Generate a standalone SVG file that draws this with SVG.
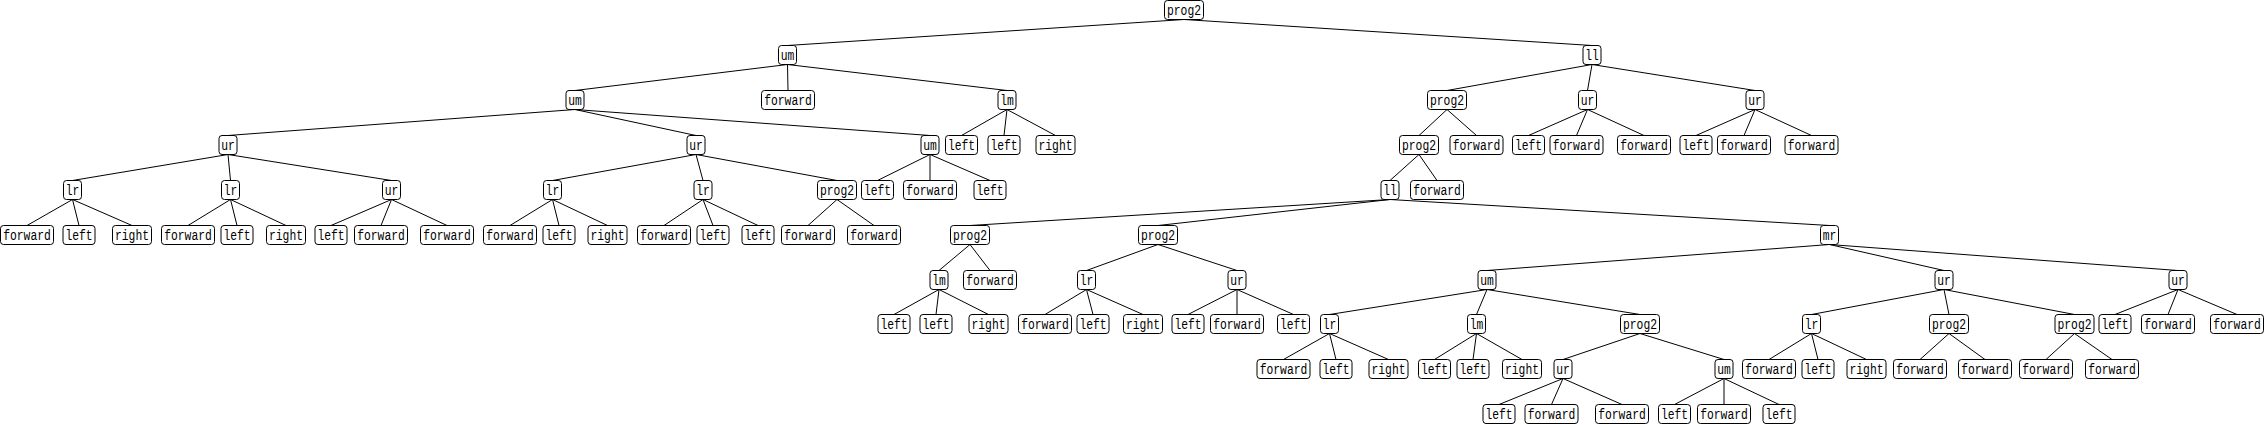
<svg xmlns="http://www.w3.org/2000/svg" width="2265" height="425" viewBox="0 0 2265 425">
<style>
.node rect{fill:#fff;stroke:#000;stroke-width:1}
.node text{font-family:"Liberation Mono","DejaVu Sans Mono",monospace;font-size:14px;fill:#000;text-anchor:middle}
#connectors line{stroke:#000;stroke-width:1}
</style>
<rect width="2265" height="425" fill="#fff"/>
<g id="connectors">
<line x1="1184" y1="19.5" x2="787.5" y2="45.5"/><line x1="1184" y1="19.5" x2="1592" y2="45.5"/>
<line x1="787.5" y1="64.5" x2="575" y2="90.5"/><line x1="787.5" y1="64.5" x2="788" y2="90.5"/><line x1="787.5" y1="64.5" x2="1007" y2="90.5"/>
<line x1="1592" y1="64.5" x2="1447" y2="90.5"/><line x1="1592" y1="64.5" x2="1587.5" y2="90.5"/><line x1="1592" y1="64.5" x2="1755" y2="90.5"/>
<line x1="575" y1="109.5" x2="228" y2="135.5"/><line x1="575" y1="109.5" x2="696" y2="135.5"/><line x1="575" y1="109.5" x2="930" y2="135.5"/>
<line x1="1007" y1="109.5" x2="961.5" y2="135.5"/><line x1="1007" y1="109.5" x2="1004" y2="135.5"/><line x1="1007" y1="109.5" x2="1055.5" y2="135.5"/>
<line x1="1447" y1="109.5" x2="1419" y2="135.5"/><line x1="1447" y1="109.5" x2="1476.5" y2="135.5"/>
<line x1="1587.5" y1="109.5" x2="1528.5" y2="135.5"/><line x1="1587.5" y1="109.5" x2="1576.5" y2="135.5"/><line x1="1587.5" y1="109.5" x2="1644" y2="135.5"/>
<line x1="1755" y1="109.5" x2="1696" y2="135.5"/><line x1="1755" y1="109.5" x2="1744" y2="135.5"/><line x1="1755" y1="109.5" x2="1811.5" y2="135.5"/>
<line x1="228" y1="154.5" x2="72.5" y2="180.5"/><line x1="228" y1="154.5" x2="230.5" y2="180.5"/><line x1="228" y1="154.5" x2="391.5" y2="180.5"/>
<line x1="696" y1="154.5" x2="552.5" y2="180.5"/><line x1="696" y1="154.5" x2="703" y2="180.5"/><line x1="696" y1="154.5" x2="837" y2="180.5"/>
<line x1="930" y1="154.5" x2="877.5" y2="180.5"/><line x1="930" y1="154.5" x2="930" y2="180.5"/><line x1="930" y1="154.5" x2="990" y2="180.5"/>
<line x1="1419" y1="154.5" x2="1390" y2="180.5"/><line x1="1419" y1="154.5" x2="1437" y2="180.5"/>
<line x1="72.5" y1="199.5" x2="27" y2="225.5"/><line x1="72.5" y1="199.5" x2="79" y2="225.5"/><line x1="72.5" y1="199.5" x2="132" y2="225.5"/>
<line x1="230.5" y1="199.5" x2="188" y2="225.5"/><line x1="230.5" y1="199.5" x2="237" y2="225.5"/><line x1="230.5" y1="199.5" x2="286" y2="225.5"/>
<line x1="391.5" y1="199.5" x2="331" y2="225.5"/><line x1="391.5" y1="199.5" x2="381" y2="225.5"/><line x1="391.5" y1="199.5" x2="447" y2="225.5"/>
<line x1="552.5" y1="199.5" x2="510" y2="225.5"/><line x1="552.5" y1="199.5" x2="559" y2="225.5"/><line x1="552.5" y1="199.5" x2="607.5" y2="225.5"/>
<line x1="703" y1="199.5" x2="664" y2="225.5"/><line x1="703" y1="199.5" x2="713" y2="225.5"/><line x1="703" y1="199.5" x2="758" y2="225.5"/>
<line x1="837" y1="199.5" x2="808" y2="225.5"/><line x1="837" y1="199.5" x2="874" y2="225.5"/>
<line x1="1390" y1="199.5" x2="970" y2="225.5"/><line x1="1390" y1="199.5" x2="1158" y2="225.5"/><line x1="1390" y1="199.5" x2="1829.5" y2="225.5"/>
<line x1="970" y1="244.5" x2="939" y2="270.5"/><line x1="970" y1="244.5" x2="990" y2="270.5"/>
<line x1="1158" y1="244.5" x2="1086.5" y2="270.5"/><line x1="1158" y1="244.5" x2="1237" y2="270.5"/>
<line x1="1829.5" y1="244.5" x2="1487" y2="270.5"/><line x1="1829.5" y1="244.5" x2="1944" y2="270.5"/><line x1="1829.5" y1="244.5" x2="2178" y2="270.5"/>
<line x1="939" y1="289.5" x2="894" y2="314.5"/><line x1="939" y1="289.5" x2="936" y2="314.5"/><line x1="939" y1="289.5" x2="988.5" y2="314.5"/>
<line x1="1086.5" y1="289.5" x2="1045" y2="314.5"/><line x1="1086.5" y1="289.5" x2="1093" y2="314.5"/><line x1="1086.5" y1="289.5" x2="1143" y2="314.5"/>
<line x1="1237" y1="289.5" x2="1188" y2="314.5"/><line x1="1237" y1="289.5" x2="1237" y2="314.5"/><line x1="1237" y1="289.5" x2="1293.5" y2="314.5"/>
<line x1="1487" y1="289.5" x2="1329.5" y2="314.5"/><line x1="1487" y1="289.5" x2="1476.5" y2="314.5"/><line x1="1487" y1="289.5" x2="1640" y2="314.5"/>
<line x1="1944" y1="289.5" x2="1811.5" y2="314.5"/><line x1="1944" y1="289.5" x2="1949" y2="314.5"/><line x1="1944" y1="289.5" x2="2074.5" y2="314.5"/>
<line x1="2178" y1="289.5" x2="2115" y2="314.5"/><line x1="2178" y1="289.5" x2="2168" y2="314.5"/><line x1="2178" y1="289.5" x2="2237" y2="314.5"/>
<line x1="1329.5" y1="333.5" x2="1283.5" y2="359.5"/><line x1="1329.5" y1="333.5" x2="1336" y2="359.5"/><line x1="1329.5" y1="333.5" x2="1388.5" y2="359.5"/>
<line x1="1476.5" y1="333.5" x2="1434.5" y2="359.5"/><line x1="1476.5" y1="333.5" x2="1473" y2="359.5"/><line x1="1476.5" y1="333.5" x2="1522" y2="359.5"/>
<line x1="1640" y1="333.5" x2="1563" y2="359.5"/><line x1="1640" y1="333.5" x2="1724" y2="359.5"/>
<line x1="1811.5" y1="333.5" x2="1769" y2="359.5"/><line x1="1811.5" y1="333.5" x2="1818" y2="359.5"/><line x1="1811.5" y1="333.5" x2="1866.5" y2="359.5"/>
<line x1="1949" y1="333.5" x2="1920" y2="359.5"/><line x1="1949" y1="333.5" x2="1985" y2="359.5"/>
<line x1="2074.5" y1="333.5" x2="2046" y2="359.5"/><line x1="2074.5" y1="333.5" x2="2112" y2="359.5"/>
<line x1="1563" y1="378.5" x2="1499" y2="404.5"/><line x1="1563" y1="378.5" x2="1551.5" y2="404.5"/><line x1="1563" y1="378.5" x2="1622" y2="404.5"/>
<line x1="1724" y1="378.5" x2="1674.5" y2="404.5"/><line x1="1724" y1="378.5" x2="1724" y2="404.5"/><line x1="1724" y1="378.5" x2="1779" y2="404.5"/>
</g>
<g id="n0" class="node"><rect x="1164.5" y="0.5" width="39" height="19" rx="3"/><text x="1184" y="14.5" textLength="34" lengthAdjust="spacingAndGlyphs">prog2</text></g>
<g id="n1" class="node"><rect x="778.5" y="45.5" width="18" height="19" rx="3"/><text x="787.5" y="59.5" textLength="13.6" lengthAdjust="spacingAndGlyphs">um</text></g>
<g id="n2" class="node"><rect x="1583" y="45.5" width="18" height="19" rx="3"/><text x="1592" y="59.5" textLength="13.6" lengthAdjust="spacingAndGlyphs">ll</text></g>
<g id="n3" class="node"><rect x="566" y="90.5" width="18" height="19" rx="3"/><text x="575" y="104.5" textLength="13.6" lengthAdjust="spacingAndGlyphs">um</text></g>
<g id="n4" class="node"><rect x="761.5" y="90.5" width="53" height="19" rx="3"/><text x="788" y="104.5" textLength="47.6" lengthAdjust="spacingAndGlyphs">forward</text></g>
<g id="n5" class="node"><rect x="998" y="90.5" width="18" height="19" rx="3"/><text x="1007" y="104.5" textLength="13.6" lengthAdjust="spacingAndGlyphs">lm</text></g>
<g id="n6" class="node"><rect x="1427.5" y="90.5" width="39" height="19" rx="3"/><text x="1447" y="104.5" textLength="34" lengthAdjust="spacingAndGlyphs">prog2</text></g>
<g id="n7" class="node"><rect x="1578.5" y="90.5" width="18" height="19" rx="3"/><text x="1587.5" y="104.5" textLength="13.6" lengthAdjust="spacingAndGlyphs">ur</text></g>
<g id="n8" class="node"><rect x="1746" y="90.5" width="18" height="19" rx="3"/><text x="1755" y="104.5" textLength="13.6" lengthAdjust="spacingAndGlyphs">ur</text></g>
<g id="n9" class="node"><rect x="219" y="135.5" width="18" height="19" rx="3"/><text x="228" y="149.5" textLength="13.6" lengthAdjust="spacingAndGlyphs">ur</text></g>
<g id="n10" class="node"><rect x="687" y="135.5" width="18" height="19" rx="3"/><text x="696" y="149.5" textLength="13.6" lengthAdjust="spacingAndGlyphs">ur</text></g>
<g id="n11" class="node"><rect x="921" y="135.5" width="18" height="19" rx="3"/><text x="930" y="149.5" textLength="13.6" lengthAdjust="spacingAndGlyphs">um</text></g>
<g id="n12" class="node"><rect x="945.5" y="135.5" width="32" height="19" rx="3"/><text x="961.5" y="149.5" textLength="27.2" lengthAdjust="spacingAndGlyphs">left</text></g>
<g id="n13" class="node"><rect x="988" y="135.5" width="32" height="19" rx="3"/><text x="1004" y="149.5" textLength="27.2" lengthAdjust="spacingAndGlyphs">left</text></g>
<g id="n14" class="node"><rect x="1036" y="135.5" width="39" height="19" rx="3"/><text x="1055.5" y="149.5" textLength="34" lengthAdjust="spacingAndGlyphs">right</text></g>
<g id="n15" class="node"><rect x="1399.5" y="135.5" width="39" height="19" rx="3"/><text x="1419" y="149.5" textLength="34" lengthAdjust="spacingAndGlyphs">prog2</text></g>
<g id="n16" class="node"><rect x="1450" y="135.5" width="53" height="19" rx="3"/><text x="1476.5" y="149.5" textLength="47.6" lengthAdjust="spacingAndGlyphs">forward</text></g>
<g id="n17" class="node"><rect x="1512.5" y="135.5" width="32" height="19" rx="3"/><text x="1528.5" y="149.5" textLength="27.2" lengthAdjust="spacingAndGlyphs">left</text></g>
<g id="n18" class="node"><rect x="1550" y="135.5" width="53" height="19" rx="3"/><text x="1576.5" y="149.5" textLength="47.6" lengthAdjust="spacingAndGlyphs">forward</text></g>
<g id="n19" class="node"><rect x="1617.5" y="135.5" width="53" height="19" rx="3"/><text x="1644" y="149.5" textLength="47.6" lengthAdjust="spacingAndGlyphs">forward</text></g>
<g id="n20" class="node"><rect x="1680" y="135.5" width="32" height="19" rx="3"/><text x="1696" y="149.5" textLength="27.2" lengthAdjust="spacingAndGlyphs">left</text></g>
<g id="n21" class="node"><rect x="1717.5" y="135.5" width="53" height="19" rx="3"/><text x="1744" y="149.5" textLength="47.6" lengthAdjust="spacingAndGlyphs">forward</text></g>
<g id="n22" class="node"><rect x="1785" y="135.5" width="53" height="19" rx="3"/><text x="1811.5" y="149.5" textLength="47.6" lengthAdjust="spacingAndGlyphs">forward</text></g>
<g id="n23" class="node"><rect x="63.5" y="180.5" width="18" height="19" rx="3"/><text x="72.5" y="194.5" textLength="13.6" lengthAdjust="spacingAndGlyphs">lr</text></g>
<g id="n24" class="node"><rect x="221.5" y="180.5" width="18" height="19" rx="3"/><text x="230.5" y="194.5" textLength="13.6" lengthAdjust="spacingAndGlyphs">lr</text></g>
<g id="n25" class="node"><rect x="382.5" y="180.5" width="18" height="19" rx="3"/><text x="391.5" y="194.5" textLength="13.6" lengthAdjust="spacingAndGlyphs">ur</text></g>
<g id="n26" class="node"><rect x="543.5" y="180.5" width="18" height="19" rx="3"/><text x="552.5" y="194.5" textLength="13.6" lengthAdjust="spacingAndGlyphs">lr</text></g>
<g id="n27" class="node"><rect x="694" y="180.5" width="18" height="19" rx="3"/><text x="703" y="194.5" textLength="13.6" lengthAdjust="spacingAndGlyphs">lr</text></g>
<g id="n28" class="node"><rect x="817.5" y="180.5" width="39" height="19" rx="3"/><text x="837" y="194.5" textLength="34" lengthAdjust="spacingAndGlyphs">prog2</text></g>
<g id="n29" class="node"><rect x="861.5" y="180.5" width="32" height="19" rx="3"/><text x="877.5" y="194.5" textLength="27.2" lengthAdjust="spacingAndGlyphs">left</text></g>
<g id="n30" class="node"><rect x="903.5" y="180.5" width="53" height="19" rx="3"/><text x="930" y="194.5" textLength="47.6" lengthAdjust="spacingAndGlyphs">forward</text></g>
<g id="n31" class="node"><rect x="974" y="180.5" width="32" height="19" rx="3"/><text x="990" y="194.5" textLength="27.2" lengthAdjust="spacingAndGlyphs">left</text></g>
<g id="n32" class="node"><rect x="1381" y="180.5" width="18" height="19" rx="3"/><text x="1390" y="194.5" textLength="13.6" lengthAdjust="spacingAndGlyphs">ll</text></g>
<g id="n33" class="node"><rect x="1410.5" y="180.5" width="53" height="19" rx="3"/><text x="1437" y="194.5" textLength="47.6" lengthAdjust="spacingAndGlyphs">forward</text></g>
<g id="n34" class="node"><rect x="0.5" y="225.5" width="53" height="19" rx="3"/><text x="27" y="239.5" textLength="47.6" lengthAdjust="spacingAndGlyphs">forward</text></g>
<g id="n35" class="node"><rect x="63" y="225.5" width="32" height="19" rx="3"/><text x="79" y="239.5" textLength="27.2" lengthAdjust="spacingAndGlyphs">left</text></g>
<g id="n36" class="node"><rect x="112.5" y="225.5" width="39" height="19" rx="3"/><text x="132" y="239.5" textLength="34" lengthAdjust="spacingAndGlyphs">right</text></g>
<g id="n37" class="node"><rect x="161.5" y="225.5" width="53" height="19" rx="3"/><text x="188" y="239.5" textLength="47.6" lengthAdjust="spacingAndGlyphs">forward</text></g>
<g id="n38" class="node"><rect x="221" y="225.5" width="32" height="19" rx="3"/><text x="237" y="239.5" textLength="27.2" lengthAdjust="spacingAndGlyphs">left</text></g>
<g id="n39" class="node"><rect x="266.5" y="225.5" width="39" height="19" rx="3"/><text x="286" y="239.5" textLength="34" lengthAdjust="spacingAndGlyphs">right</text></g>
<g id="n40" class="node"><rect x="315" y="225.5" width="32" height="19" rx="3"/><text x="331" y="239.5" textLength="27.2" lengthAdjust="spacingAndGlyphs">left</text></g>
<g id="n41" class="node"><rect x="354.5" y="225.5" width="53" height="19" rx="3"/><text x="381" y="239.5" textLength="47.6" lengthAdjust="spacingAndGlyphs">forward</text></g>
<g id="n42" class="node"><rect x="420.5" y="225.5" width="53" height="19" rx="3"/><text x="447" y="239.5" textLength="47.6" lengthAdjust="spacingAndGlyphs">forward</text></g>
<g id="n43" class="node"><rect x="483.5" y="225.5" width="53" height="19" rx="3"/><text x="510" y="239.5" textLength="47.6" lengthAdjust="spacingAndGlyphs">forward</text></g>
<g id="n44" class="node"><rect x="543" y="225.5" width="32" height="19" rx="3"/><text x="559" y="239.5" textLength="27.2" lengthAdjust="spacingAndGlyphs">left</text></g>
<g id="n45" class="node"><rect x="588" y="225.5" width="39" height="19" rx="3"/><text x="607.5" y="239.5" textLength="34" lengthAdjust="spacingAndGlyphs">right</text></g>
<g id="n46" class="node"><rect x="637.5" y="225.5" width="53" height="19" rx="3"/><text x="664" y="239.5" textLength="47.6" lengthAdjust="spacingAndGlyphs">forward</text></g>
<g id="n47" class="node"><rect x="697" y="225.5" width="32" height="19" rx="3"/><text x="713" y="239.5" textLength="27.2" lengthAdjust="spacingAndGlyphs">left</text></g>
<g id="n48" class="node"><rect x="742" y="225.5" width="32" height="19" rx="3"/><text x="758" y="239.5" textLength="27.2" lengthAdjust="spacingAndGlyphs">left</text></g>
<g id="n49" class="node"><rect x="781.5" y="225.5" width="53" height="19" rx="3"/><text x="808" y="239.5" textLength="47.6" lengthAdjust="spacingAndGlyphs">forward</text></g>
<g id="n50" class="node"><rect x="847.5" y="225.5" width="53" height="19" rx="3"/><text x="874" y="239.5" textLength="47.6" lengthAdjust="spacingAndGlyphs">forward</text></g>
<g id="n51" class="node"><rect x="950.5" y="225.5" width="39" height="19" rx="3"/><text x="970" y="239.5" textLength="34" lengthAdjust="spacingAndGlyphs">prog2</text></g>
<g id="n52" class="node"><rect x="1138.5" y="225.5" width="39" height="19" rx="3"/><text x="1158" y="239.5" textLength="34" lengthAdjust="spacingAndGlyphs">prog2</text></g>
<g id="n53" class="node"><rect x="1820.5" y="225.5" width="18" height="19" rx="3"/><text x="1829.5" y="239.5" textLength="13.6" lengthAdjust="spacingAndGlyphs">mr</text></g>
<g id="n54" class="node"><rect x="930" y="270.5" width="18" height="19" rx="3"/><text x="939" y="284.5" textLength="13.6" lengthAdjust="spacingAndGlyphs">lm</text></g>
<g id="n55" class="node"><rect x="963.5" y="270.5" width="53" height="19" rx="3"/><text x="990" y="284.5" textLength="47.6" lengthAdjust="spacingAndGlyphs">forward</text></g>
<g id="n56" class="node"><rect x="1077.5" y="270.5" width="18" height="19" rx="3"/><text x="1086.5" y="284.5" textLength="13.6" lengthAdjust="spacingAndGlyphs">lr</text></g>
<g id="n57" class="node"><rect x="1228" y="270.5" width="18" height="19" rx="3"/><text x="1237" y="284.5" textLength="13.6" lengthAdjust="spacingAndGlyphs">ur</text></g>
<g id="n58" class="node"><rect x="1478" y="270.5" width="18" height="19" rx="3"/><text x="1487" y="284.5" textLength="13.6" lengthAdjust="spacingAndGlyphs">um</text></g>
<g id="n59" class="node"><rect x="1935" y="270.5" width="18" height="19" rx="3"/><text x="1944" y="284.5" textLength="13.6" lengthAdjust="spacingAndGlyphs">ur</text></g>
<g id="n60" class="node"><rect x="2169" y="270.5" width="18" height="19" rx="3"/><text x="2178" y="284.5" textLength="13.6" lengthAdjust="spacingAndGlyphs">ur</text></g>
<g id="n61" class="node"><rect x="878" y="314.5" width="32" height="19" rx="3"/><text x="894" y="328.5" textLength="27.2" lengthAdjust="spacingAndGlyphs">left</text></g>
<g id="n62" class="node"><rect x="920" y="314.5" width="32" height="19" rx="3"/><text x="936" y="328.5" textLength="27.2" lengthAdjust="spacingAndGlyphs">left</text></g>
<g id="n63" class="node"><rect x="969" y="314.5" width="39" height="19" rx="3"/><text x="988.5" y="328.5" textLength="34" lengthAdjust="spacingAndGlyphs">right</text></g>
<g id="n64" class="node"><rect x="1018.5" y="314.5" width="53" height="19" rx="3"/><text x="1045" y="328.5" textLength="47.6" lengthAdjust="spacingAndGlyphs">forward</text></g>
<g id="n65" class="node"><rect x="1077" y="314.5" width="32" height="19" rx="3"/><text x="1093" y="328.5" textLength="27.2" lengthAdjust="spacingAndGlyphs">left</text></g>
<g id="n66" class="node"><rect x="1123.5" y="314.5" width="39" height="19" rx="3"/><text x="1143" y="328.5" textLength="34" lengthAdjust="spacingAndGlyphs">right</text></g>
<g id="n67" class="node"><rect x="1172" y="314.5" width="32" height="19" rx="3"/><text x="1188" y="328.5" textLength="27.2" lengthAdjust="spacingAndGlyphs">left</text></g>
<g id="n68" class="node"><rect x="1210.5" y="314.5" width="53" height="19" rx="3"/><text x="1237" y="328.5" textLength="47.6" lengthAdjust="spacingAndGlyphs">forward</text></g>
<g id="n69" class="node"><rect x="1277.5" y="314.5" width="32" height="19" rx="3"/><text x="1293.5" y="328.5" textLength="27.2" lengthAdjust="spacingAndGlyphs">left</text></g>
<g id="n70" class="node"><rect x="1320.5" y="314.5" width="18" height="19" rx="3"/><text x="1329.5" y="328.5" textLength="13.6" lengthAdjust="spacingAndGlyphs">lr</text></g>
<g id="n71" class="node"><rect x="1467.5" y="314.5" width="18" height="19" rx="3"/><text x="1476.5" y="328.5" textLength="13.6" lengthAdjust="spacingAndGlyphs">lm</text></g>
<g id="n72" class="node"><rect x="1620.5" y="314.5" width="39" height="19" rx="3"/><text x="1640" y="328.5" textLength="34" lengthAdjust="spacingAndGlyphs">prog2</text></g>
<g id="n73" class="node"><rect x="1802.5" y="314.5" width="18" height="19" rx="3"/><text x="1811.5" y="328.5" textLength="13.6" lengthAdjust="spacingAndGlyphs">lr</text></g>
<g id="n74" class="node"><rect x="1929.5" y="314.5" width="39" height="19" rx="3"/><text x="1949" y="328.5" textLength="34" lengthAdjust="spacingAndGlyphs">prog2</text></g>
<g id="n75" class="node"><rect x="2055" y="314.5" width="39" height="19" rx="3"/><text x="2074.5" y="328.5" textLength="34" lengthAdjust="spacingAndGlyphs">prog2</text></g>
<g id="n76" class="node"><rect x="2099" y="314.5" width="32" height="19" rx="3"/><text x="2115" y="328.5" textLength="27.2" lengthAdjust="spacingAndGlyphs">left</text></g>
<g id="n77" class="node"><rect x="2141.5" y="314.5" width="53" height="19" rx="3"/><text x="2168" y="328.5" textLength="47.6" lengthAdjust="spacingAndGlyphs">forward</text></g>
<g id="n78" class="node"><rect x="2210.5" y="314.5" width="53" height="19" rx="3"/><text x="2237" y="328.5" textLength="47.6" lengthAdjust="spacingAndGlyphs">forward</text></g>
<g id="n79" class="node"><rect x="1257" y="359.5" width="53" height="19" rx="3"/><text x="1283.5" y="373.5" textLength="47.6" lengthAdjust="spacingAndGlyphs">forward</text></g>
<g id="n80" class="node"><rect x="1320" y="359.5" width="32" height="19" rx="3"/><text x="1336" y="373.5" textLength="27.2" lengthAdjust="spacingAndGlyphs">left</text></g>
<g id="n81" class="node"><rect x="1369" y="359.5" width="39" height="19" rx="3"/><text x="1388.5" y="373.5" textLength="34" lengthAdjust="spacingAndGlyphs">right</text></g>
<g id="n82" class="node"><rect x="1418.5" y="359.5" width="32" height="19" rx="3"/><text x="1434.5" y="373.5" textLength="27.2" lengthAdjust="spacingAndGlyphs">left</text></g>
<g id="n83" class="node"><rect x="1457" y="359.5" width="32" height="19" rx="3"/><text x="1473" y="373.5" textLength="27.2" lengthAdjust="spacingAndGlyphs">left</text></g>
<g id="n84" class="node"><rect x="1502.5" y="359.5" width="39" height="19" rx="3"/><text x="1522" y="373.5" textLength="34" lengthAdjust="spacingAndGlyphs">right</text></g>
<g id="n85" class="node"><rect x="1554" y="359.5" width="18" height="19" rx="3"/><text x="1563" y="373.5" textLength="13.6" lengthAdjust="spacingAndGlyphs">ur</text></g>
<g id="n86" class="node"><rect x="1715" y="359.5" width="18" height="19" rx="3"/><text x="1724" y="373.5" textLength="13.6" lengthAdjust="spacingAndGlyphs">um</text></g>
<g id="n87" class="node"><rect x="1742.5" y="359.5" width="53" height="19" rx="3"/><text x="1769" y="373.5" textLength="47.6" lengthAdjust="spacingAndGlyphs">forward</text></g>
<g id="n88" class="node"><rect x="1802" y="359.5" width="32" height="19" rx="3"/><text x="1818" y="373.5" textLength="27.2" lengthAdjust="spacingAndGlyphs">left</text></g>
<g id="n89" class="node"><rect x="1847" y="359.5" width="39" height="19" rx="3"/><text x="1866.5" y="373.5" textLength="34" lengthAdjust="spacingAndGlyphs">right</text></g>
<g id="n90" class="node"><rect x="1893.5" y="359.5" width="53" height="19" rx="3"/><text x="1920" y="373.5" textLength="47.6" lengthAdjust="spacingAndGlyphs">forward</text></g>
<g id="n91" class="node"><rect x="1958.5" y="359.5" width="53" height="19" rx="3"/><text x="1985" y="373.5" textLength="47.6" lengthAdjust="spacingAndGlyphs">forward</text></g>
<g id="n92" class="node"><rect x="2019.5" y="359.5" width="53" height="19" rx="3"/><text x="2046" y="373.5" textLength="47.6" lengthAdjust="spacingAndGlyphs">forward</text></g>
<g id="n93" class="node"><rect x="2085.5" y="359.5" width="53" height="19" rx="3"/><text x="2112" y="373.5" textLength="47.6" lengthAdjust="spacingAndGlyphs">forward</text></g>
<g id="n94" class="node"><rect x="1483" y="404.5" width="32" height="19" rx="3"/><text x="1499" y="418.5" textLength="27.2" lengthAdjust="spacingAndGlyphs">left</text></g>
<g id="n95" class="node"><rect x="1525" y="404.5" width="53" height="19" rx="3"/><text x="1551.5" y="418.5" textLength="47.6" lengthAdjust="spacingAndGlyphs">forward</text></g>
<g id="n96" class="node"><rect x="1595.5" y="404.5" width="53" height="19" rx="3"/><text x="1622" y="418.5" textLength="47.6" lengthAdjust="spacingAndGlyphs">forward</text></g>
<g id="n97" class="node"><rect x="1658.5" y="404.5" width="32" height="19" rx="3"/><text x="1674.5" y="418.5" textLength="27.2" lengthAdjust="spacingAndGlyphs">left</text></g>
<g id="n98" class="node"><rect x="1697.5" y="404.5" width="53" height="19" rx="3"/><text x="1724" y="418.5" textLength="47.6" lengthAdjust="spacingAndGlyphs">forward</text></g>
<g id="n99" class="node"><rect x="1763" y="404.5" width="32" height="19" rx="3"/><text x="1779" y="418.5" textLength="27.2" lengthAdjust="spacingAndGlyphs">left</text></g>
</svg>
